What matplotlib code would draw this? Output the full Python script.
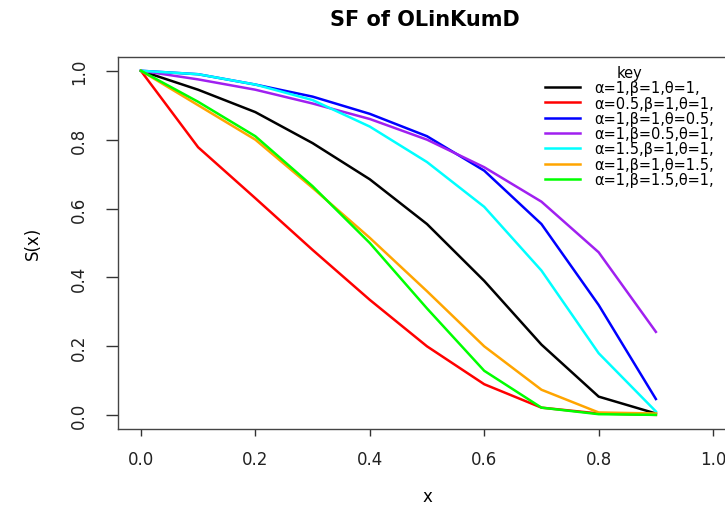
import matplotlib
matplotlib.use("Agg")
import matplotlib.pyplot as plt
import numpy as np

plt.rcParams['font.family'] = ['DejaVu Sans']

x = [0.0, 0.1, 0.2, 0.3, 0.4, 0.5, 0.6, 0.7, 0.8, 0.9]

s_black = [1.0, 0.945, 0.88, 0.79, 0.685, 0.555, 0.39, 0.205, 0.054, 0.005]
s_red = [1.0, 0.778, 0.63, 0.48, 0.335, 0.2, 0.09, 0.022, 0.005, 0.001]
s_blue = [1.0, 0.99, 0.96, 0.925, 0.875, 0.81, 0.71, 0.555, 0.32, 0.047]
s_purple = [1.0, 0.975, 0.945, 0.905, 0.86, 0.8, 0.72, 0.62, 0.473, 0.242]
s_cyan = [1.0, 0.99, 0.96, 0.915, 0.838, 0.735, 0.605, 0.42, 0.18, 0.011]
s_orange = [1.0, 0.9, 0.8, 0.66, 0.515, 0.36, 0.2, 0.074, 0.008, 0.005]
s_green = [1.0, 0.91, 0.81, 0.665, 0.5, 0.31, 0.129, 0.022, 0.003, 0.001]

labels = ["α=1,β=1,θ=1,", "α=0.5,β=1,θ=1,", "α=1,β=1,θ=0.5,",
          "α=1,β=0.5,θ=1,", "α=1.5,β=1,θ=1,", "α=1,β=1,θ=1.5,",
          "α=1,β=1.5,θ=1,"]
colors = ["black", "#FF0000", "#0000FF", "#A020F0", "#00FFFF", "#FFA500", "#00FF00"]
series = [s_black, s_red, s_blue, s_purple, s_cyan, s_orange, s_green]
ticks = [0.0, 0.2, 0.4, 0.6, 0.8, 1.0]
tick_labels = ["0.0", "0.2", "0.4", "0.6", "0.8", "1.0"]

fig = plt.figure(figsize=(7.25, 5.06), dpi=100)
# plot region runs past the right edge, as in the (cropped) reference
ax = fig.add_axes([118/725, 76/506, 618/725, 372/506])

for s, c, lab in zip(series, colors, labels):
    ax.plot(x, s, color=c, lw=1.8, label=lab)

ax.set_xlim(-0.04, 1.04)
ax.set_ylim(-0.04, 1.04)
ax.set_xticks(ticks)
ax.set_yticks(ticks)
ax.set_xticklabels(tick_labels, fontsize=12)
ax.set_yticklabels(tick_labels, fontsize=12, rotation=90, va="center")
ax.tick_params(axis="x", direction="out", length=5, width=1, pad=10,
               colors="#333333", labelcolor="#222222")
ax.tick_params(axis="y", direction="out", length=8.5, width=1, pad=13,
               colors="#333333", labelcolor="#222222")
for sp in ax.spines.values():
    sp.set_color("#444444")
    sp.set_linewidth(1)

fig.text(425/725, 1 - 20/506, "SF of OLinKumD", ha="center", va="center",
         fontsize=15, fontweight="bold")
fig.text(427/725, 1 - 497/506, "x", ha="center", va="center", fontsize=12)
fig.text(33/725, 1 - 243/506, "S(x)", ha="center", va="center", fontsize=12,
         rotation=90)

leg = ax.legend(title="key", frameon=False, loc="upper left",
                bbox_to_anchor=(545/725, 1 - 66/506), bbox_transform=fig.transFigure,
                fontsize=10.5, title_fontsize=10.5, handlelength=2.4,
                handletextpad=1.0, labelspacing=0.02, borderaxespad=0,
                borderpad=0)

fig.savefig("out.png", dpi=100)
